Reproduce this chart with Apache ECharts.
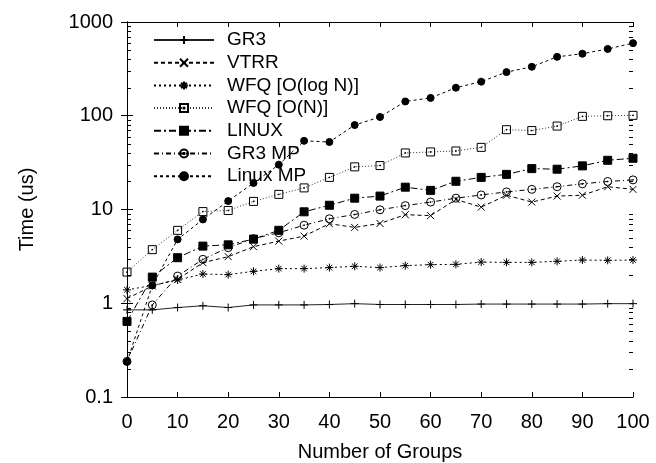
<!DOCTYPE html>
<html><head><meta charset="utf-8">
<script src="https://cdn.jsdelivr.net/npm/echarts@6/dist/echarts.min.js"></script>
<style>html,body{margin:0;padding:0;background:#fff}#c{width:656px;height:463px}</style>
</head><body><div id="c"></div>
<script>
const groups = [0,5,10,15,20,25,30,35,40,45,50,55,60,65,70,75,80,85,90,95,100];
const gr3     = [0.85,0.85,0.90,0.94,0.90,0.96,0.96,0.96,0.97,0.99,0.97,0.97,0.97,0.97,0.98,0.98,0.98,0.98,0.98,0.99,0.99];
const vtrr    = [1.12,1.53,1.80,2.71,3.14,4.01,4.6,5.2,7.05,6.44,7.1,8.8,8.6,12.8,10.6,14.2,12.0,13.9,14.2,17.5,16.4];
const wfqLog  = [1.39,1.55,1.77,2.05,2.02,2.19,2.34,2.34,2.4,2.48,2.4,2.52,2.58,2.6,2.75,2.73,2.73,2.8,2.89,2.87,2.89];
const wfqN    = [2.15,3.73,5.99,9.5,9.76,12.2,14.5,17.0,22.0,28.5,29.4,40.1,41.1,42.1,46,71,69.5,77.6,98.5,100,101];
const linux   = [0.64,1.9,3.06,4.07,4.2,4.83,6.0,9.45,11.1,13.2,13.9,17.3,16.0,20.0,22,23.7,27.3,26.9,29.2,33.5,35.2];
const gr3mp   = [0.24,0.96,1.95,2.94,3.92,4.88,5.65,6.8,7.96,8.85,9.93,11.0,12.0,13.2,14.3,15.4,16.4,17.5,18.8,19.9,20.7];
const linuxmp = [0.237,1.55,4.8,7.83,12.3,19.2,30.1,54,52.5,79.6,97,142,155,199,231,292,333,425,459,516,595];
const seriesNames = ['GR3','VTRR','WFQ [O(log N)]','WFQ [O(N)]','LINUX','GR3 MP','Linux MP'];
const xTicks = [0,10,20,30,40,50,60,70,80,90,100];
const yTicks = [0.1,1,10,100,1000];

const FONT = '"Liberation Sans", Arial, Helvetica, sans-serif';
const minorVals = [];
[0.1, 1, 10, 100].forEach(d => { for (let m = 2; m <= 9; m++) minorVals.push(+(m * d).toPrecision(3)); });

const pts = arr => groups.map((g, i) => [g, arr[i]]);
const clear = 'rgba(0,0,0,0)';
const styles = [
  {sym:'path://M0,5H10M5,0V10', size:8, dash:'solid', fill:'#000', color:'#222'},
  {sym:'path://M0,0L10,10M0,10L10,0', size:7, dash:[4,3], fill:'#000', color:'#000'},
  {sym:'path://M0,5H10M5,0V10M1.5,1.5L8.5,8.5M1.5,8.5L8.5,1.5', size:8, dash:[2,3], fill:'#000', color:'#000'},
  {sym:'path://M0,0H10V10H0ZM4.5,4.5H5.5V5.5H4.5Z', size:8, dash:[1,2], fill:clear, color:'#333'},
  {sym:'rect', size:8, dash:[7,3,2,3], fill:'#000', color:'#000'},
  {sym:'path://M10,5A5,5,0,1,1,0,5A5,5,0,1,1,10,5ZM4.5,4.5H5.5V5.5H4.5Z', size:8, dash:[5,3,1,3], fill:clear, color:'#000'},
  {sym:'circle', size:7, dash:[3,3], fill:'#000', color:'#000'}
];
const dataSets = [gr3, vtrr, wfqLog, wfqN, linux, gr3mp, linuxmp];

const series = dataSets.map((arr, i) => ({
  name: seriesNames[i], type:'line', xAxisIndex:0, yAxisIndex:0,
  data: pts(arr), symbol: styles[i].sym, symbolSize: styles[i].size, showAllSymbol:true,
  lineStyle:{color: styles[i].color, width:1, type: styles[i].dash},
  itemStyle:{color: styles[i].fill, borderColor:'#000', borderWidth:1},
  emphasis:{disabled:true}, z: 3
}));

// minor log ticks on left and right frame edges, pixel-snapped filled rects
series.push({
  type:'custom', xAxisIndex:0, yAxisIndex:0, silent:true, clip:false, z:4,
  data: minorVals.map(v => [0, v]),
  renderItem: (params, api) => {
    const v = api.value(1);
    const l = api.coord([0, v]);
    const r = api.coord([100, v]);
    const y = Math.round(l[1]);
    return {type:'group', children:[
      {type:'rect', shape:{x:Math.round(l[0]), y:y, width:4, height:1}, style:{fill:'#000'}},
      {type:'rect', shape:{x:Math.round(r[0]) - 4, y:y, width:4, height:1}, style:{fill:'#000'}}
    ]};
  }
});

const axLine = {show:true, lineStyle:{color:'#000', width:1}};
const option = {
  animation:false,
  backgroundColor:'#fff',
  grid:{left:127, right:23, top:22, bottom:66, containLabel:false, outerBoundsMode:'none'},
  legend:{
    orient:'vertical', left:153, top:30, padding:0, itemWidth:60, itemHeight:10, itemGap:2.7,
    data: seriesNames, selectedMode:false,
    textStyle:{fontFamily:FONT, fontSize:19, color:'#000', lineHeight:20, padding:[0,0,0,8]}
  },
  xAxis:[
    {type:'value', position:'bottom', min:0, max:100, interval:10,
     axisLine:axLine, splitLine:{show:false},
     axisTick:{show:true, inside:true, length:5, lineStyle:{color:'#000'}},
     axisLabel:{fontFamily:FONT, fontSize:20, color:'#000', margin:15},
     name:'Number of Groups', nameLocation:'middle', nameGap:45,
     nameTextStyle:{fontFamily:FONT, fontSize:20, color:'#000'}},
    {type:'value', position:'top', min:0, max:100, interval:10,
     axisLine:axLine, splitLine:{show:false},
     axisTick:{show:true, inside:true, length:5, lineStyle:{color:'#000'}},
     axisLabel:{show:false}}
  ],
  yAxis:[
    {type:'log', logBase:10, position:'left', min:0.1, max:1000,
     axisLine:axLine, splitLine:{show:false},
     axisTick:{show:true, inside:true, length:6, lineStyle:{color:'#000'}},
     axisLabel:{fontFamily:FONT, fontSize:20, color:'#000', margin:14,
       formatter: v => String(yTicks.find(t => Math.abs(Math.log10(t) - Math.log10(v)) < 1e-6) ?? v)},
     name:'Time (us)', nameLocation:'middle', nameGap:90, nameRotate:90,
     nameTextStyle:{fontFamily:FONT, fontSize:20, color:'#000'}},
    {type:'log', logBase:10, position:'right', min:0.1, max:1000,
     axisLine:axLine, splitLine:{show:false},
     axisTick:{show:true, inside:true, length:6, lineStyle:{color:'#000'}},
     axisLabel:{show:false}}
  ],
  series
};
const chart = echarts.init(document.getElementById('c'), null, {renderer:'canvas'});
chart.setOption(option);
</script></body></html>
